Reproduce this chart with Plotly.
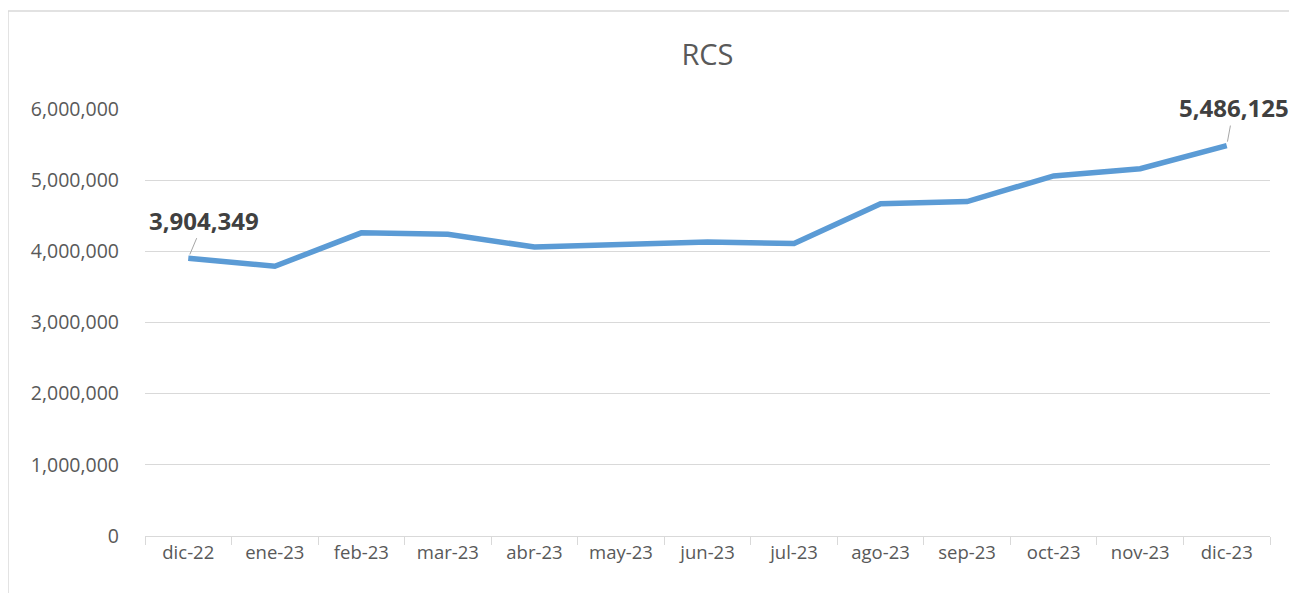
import plotly.graph_objects as go

months = ["dic-22", "ene-23", "feb-23", "mar-23", "abr-23", "may-23", "jun-23",
          "jul-23", "ago-23", "sep-23", "oct-23", "nov-23", "dic-23"]
rcs = [3904349, 3790000, 4260000, 4240000, 4060000, 4100000, 4130000,
       4110000, 4670000, 4700000, 5060000, 5160000, 5486125]
y_ticks = [0, 1000000, 2000000, 3000000, 4000000, 5000000, 6000000]

FONT = "Open Sans"
fig = go.Figure()
fig.add_trace(go.Scatter(x=months, y=rcs, mode="lines",
                         line=dict(color="#5B9BD5", width=5.5),
                         hoverinfo="x+y", showlegend=False))

for idx, ax, ay in [(0, 16, -38), (len(months) - 1, 7, -38)]:
    fig.add_annotation(x=months[idx], y=rcs[idx], text=f"<b>{rcs[idx]:,}</b>",
                       showarrow=True, arrowhead=0, arrowwidth=1, arrowcolor="#A6A6A6",
                       ax=ax, ay=ay, standoff=4,
                       font=dict(family=FONT, size=24, color="#404040"))

fig.add_shape(type="rect", xref="paper", yref="paper",
              x0=-0.1218, x1=1.0178, y0=-0.135, y1=1.2295,
              line=dict(color="#D9D9D9", width=1.5), layer="below")

fig.update_layout(
    width=1289, height=585,
    margin=dict(l=137, r=27, t=101, b=57),
    paper_bgcolor="white", plot_bgcolor="white",
    title=dict(text="RCS", x=0.5, xref="paper", y=0.92, yref="container",
               xanchor="center", yanchor="middle",
               font=dict(family=FONT, size=29, color="#595959")),
    xaxis=dict(range=[-0.5, len(months) - 0.5],
               showgrid=False, showline=True, linecolor="#D9D9D9", linewidth=1,
               ticks="outside", tickson="boundaries", ticklen=8, tickcolor="#D9D9D9",
               tickfont=dict(family=FONT, size=18.5, color="#595959"),
               fixedrange=True),
    yaxis=dict(range=[0, 6000000], tickvals=y_ticks, tickformat=",d",
               showgrid=True, gridcolor="#D9D9D9", gridwidth=1,
               zeroline=False, showline=False, ticks="",
               ticklabelstandoff=25,
               tickfont=dict(family=FONT, size=19.5, color="#595959"),
               fixedrange=True),
)

fig.write_html("out.html")
